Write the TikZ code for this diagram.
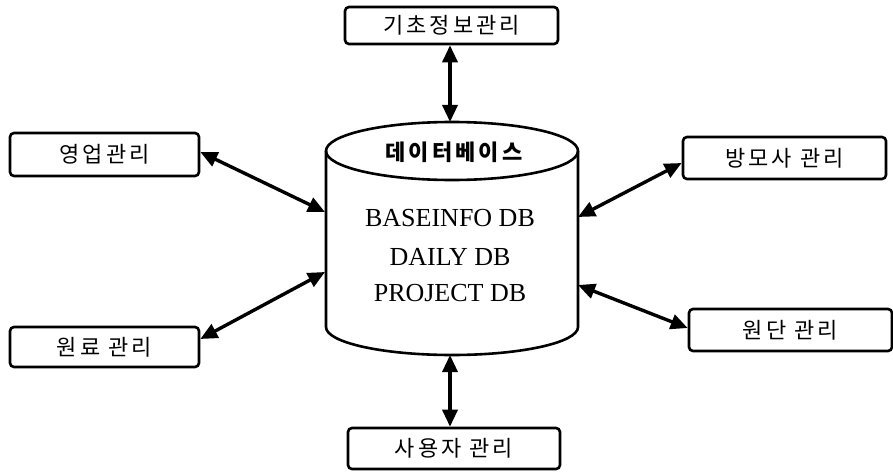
\documentclass[tikz,border=0pt]{standalone}
\usepackage{fontspec}
\setmainfont{Liberation Serif}
\newfontfamily\kr[LetterSpace=14]{Noto Sans CJK KR}
\usetikzlibrary{arrows.meta}
\begin{document}
\begin{tikzpicture}[x=1pt,y=1pt,
  mod/.style={draw,line width=2.6pt,rounded corners=4pt,inner sep=0pt,
              font=\kr\fontsize{22}{24}\selectfont},
  link/.style={line width=3.4pt,{Triangle[length=17pt,width=15pt]}-{Triangle[length=17pt,width=15pt]}},
  dbtext/.style={font=\fontsize{26}{28}\selectfont}]
\useasboundingbox (0,0) rectangle (893,472);

% management modules
\node[mod,minimum width=213pt,minimum height=37pt] (base) at (451.5,446.5) {기초정보관리};
\node[mod,minimum width=189pt,minimum height=43pt] (sales) at (104.5,317.5) {영업관리};
\node[mod,minimum width=189pt,minimum height=40pt] (raw) at (104.5,125) {원료 관리};
\node[mod,minimum width=203pt,minimum height=42pt] (yarn) at (784.5,314) {방모사 관리};
\node[mod,minimum width=203pt,minimum height=42pt] (fabric) at (790.5,142) {원단 관리};
\node[mod,minimum width=212pt,minimum height=41pt] (user) at (454,23.5) {사용자 관리};

% database cylinder
\draw[line width=2.6pt] (326,321) -- (326,145)
  arc[start angle=180,end angle=360,x radius=126,y radius=28] -- (578,321);
\draw[line width=2.6pt] (452,321) ellipse[x radius=126,y radius=29];
\node[font=\kr\bfseries\fontsize{22}{24}\selectfont] (dbname) at (454,320) {데이터베이스};
\node[dbtext] (l1) at (450,254) {BASEINFO DB};
\node[dbtext] (l2) at (450,215) {DAILY DB};
\node[dbtext] (l3) at (450,179) {PROJECT DB};

% attachment points on the cylinder
\coordinate (dbtop) at (450,350);
\coordinate (dbbot) at (450,117);
\coordinate (dbl1) at (325,260);
\coordinate (dbl2) at (325,200);
\coordinate (dbr1) at (578,255);
\coordinate (dbr2) at (578,187);

% connectors
\draw[link] (base.south -| dbtop) -- (dbtop);
\draw[link] (dbbot) -- (user.north -| dbbot);
\draw[link] (sales.east |- 0,320) -- (dbl1);
\draw[link] (dbl2) -- (raw.east |- 0,133);
\draw[link] (dbr1) -- (yarn.west |- 0,309);
\draw[link] (dbr2) -- (fabric.west |- 0,144);
\end{tikzpicture}
\end{document}
